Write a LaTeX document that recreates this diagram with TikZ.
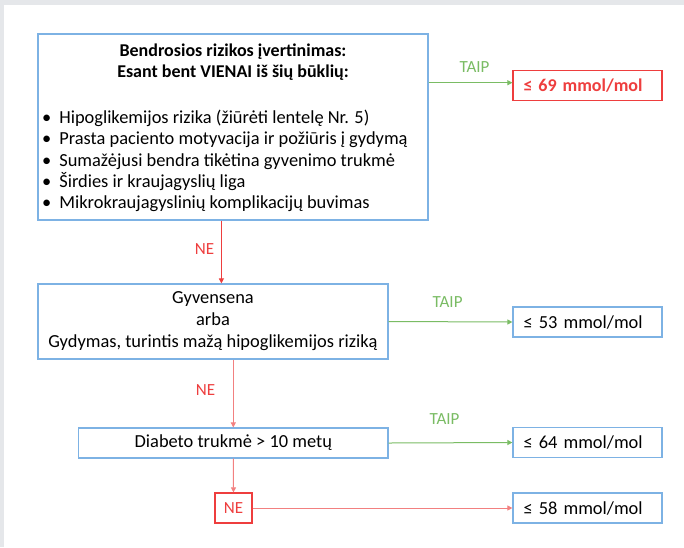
\documentclass[tikz,border=0pt]{standalone}
\usepackage{fontspec}
\setmainfont{Carlito}
\usetikzlibrary{calc}
\usetikzlibrary{arrows.meta}
\definecolor{frameblue}{RGB}{125,178,228}
\definecolor{yesgreen}{RGB}{122,188,100}
\definecolor{notred}{RGB}{238,62,62}
\definecolor{notpink}{RGB}{242,128,128}
\definecolor{pagegray}{RGB}{229,231,234}
\tikzset{stepbox/.style={draw=frameblue,line width=1.2pt,inner sep=0pt},stepbox/.default=frameblue}
\tikzset{goal/.style={draw=#1,line width=1.2pt,minimum width=149pt,minimum height=30pt,
                      text width=128pt,inner xsep=10.5pt,inner ysep=0pt,align=left},goal/.default=frameblue}

\begin{document}
\begin{tikzpicture}[x=1pt,y=-1pt,
                    font=\fontsize{18.4}{21.4}\selectfont,
                    yes/.style={draw=yesgreen,line width=1pt,-{Triangle[length=5pt,width=5pt]}},
                    no/.style={draw=notpink,line width=1pt,-{Triangle[length=5pt,width=5pt]}},
                    yes label/.style={text=yesgreen,font=\fontsize{17}{20}\selectfont,inner sep=0pt},
                    no label/.style={text=notred,font=\fontsize{17}{20}\selectfont,inner sep=0pt}]

		% Fonas
		\useasboundingbox (0,0) rectangle (684,547);
		\fill [pagegray] (0,0) rectangle (684,547);
		\fill [white] (4,5) rectangle (684,547);

		% Bendrosios rizikos langelis
		\node [stepbox, minimum width=390pt, minimum height=186pt] (risk) at (233,127) {};
		\node [font=\fontsize{18}{20.6}\selectfont\bfseries, align=center, inner sep=0pt]
			(riskTitle) at (233,62) {Bendrosios rizikos įvertinimas:\\Esant bent VIENAI iš šių būklių:};
		\node [align=left, anchor=west, inner sep=0pt] (riskList) at (42,161) {%
			\textbullet\hspace{8pt}Hipoglikemijos rizika (žiūrėti lentelę Nr. 5)\\
			\textbullet\hspace{8pt}Prasta paciento motyvacija ir požiūris į gydymą\\
			\textbullet\hspace{8pt}Sumažėjusi bendra tikėtina gyvenimo trukmė\\
			\textbullet\hspace{8pt}Širdies ir kraujagyslių liga\\
			\textbullet\hspace{8pt}Mikrokraujagyslinių komplikacijų buvimas};

		% Gyvensena
		\node [stepbox, minimum width=350pt, minimum height=75pt, align=center,
		       font=\fontsize{18.4}{22}\selectfont] (lifestyle) at (213,321.5)
			{Gyvensena\\arba\\Gydymas, turintis mažą hipoglikemijos riziką};

		% Diabeto trukmė
		\node [stepbox, minimum width=309.5pt, minimum height=30pt] (duration) at (233.3,443)
			{Diabeto trukmė > 10 metų};

		% NE langelis
		\node [stepbox, draw=notred, text=notred, minimum width=37pt, minimum height=30pt,
		       font=\fontsize{17}{20}\selectfont] (noBox) at (233.5,508) {NE};

		% Tikslai
		\node [goal=notred, text=notred, font=\fontsize{18}{21}\selectfont\bfseries] (goal69) at (587.5,85.5) {≤ 69 mmol/mol};
		\node [goal] (goal53) at (587.5,322) {≤ 53 mmol/mol};
		\node [goal] (goal64) at (587.5,442.5) {≤ 64 mmol/mol};
		\node [goal] (goal58) at (587.5,508) {≤ 58 mmol/mol};

		% Rodyklės TAIP
		\draw [yes] (risk.east |- 0,82.7) -- (goal69.west |- 0,82.7);
		\draw [yes] (lifestyle.east) -- (goal53.west);
		\draw [yes] (duration.east) -- (goal64.west);

		% Rodyklės NE
		\draw [no, draw=notred] ($(risk.south west)+(184,0)$) -- ($(lifestyle.north west)+(184,0)$);
		\draw [no] (lifestyle.south -| duration.north) -- (duration.north);
		\draw [no] (duration.south) -- (noBox.north);
		\draw [no] (noBox.east) -- (goal58.west);

		% Užrašai
		\node [yes label] (yes1) at (474.5,67.3) {TAIP};
		\node [yes label] (yes2) at (447.6,302) {TAIP};
		\node [yes label] (yes3) at (444.5,419) {TAIP};
		\node [no label] (no1) at (204.5,249) {NE};
		\node [no label] (no2) at (205.6,390) {NE};

\end{tikzpicture}
\end{document}
